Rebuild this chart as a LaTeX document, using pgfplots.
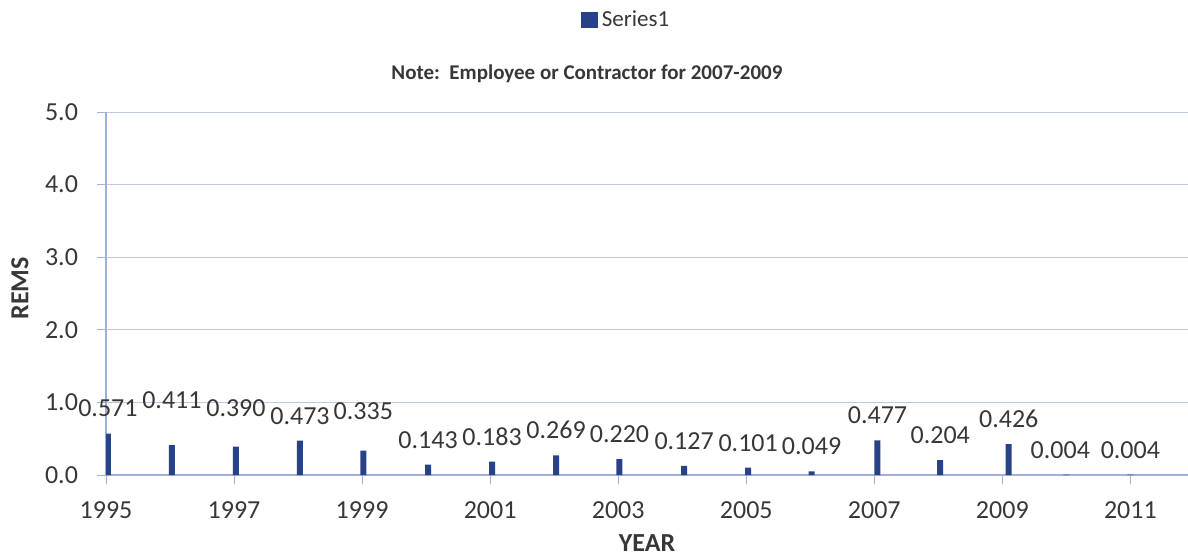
\documentclass[border=0pt]{standalone}
\usepackage{pgfplots}
\pgfplotsset{compat=1.18}
\usepackage{fontspec}
\setmainfont{Carlito}

\definecolor{barblue}{RGB}{40,66,135}
\definecolor{gridgray}{RGB}{190,200,222}
\definecolor{axisblue}{RGB}{160,175,215}
\definecolor{txt}{RGB}{55,55,55}

\begin{document}
\begin{tikzpicture}
\useasboundingbox (-53bp,-41bp) rectangle (541bp,237.5bp);
\begin{axis}[
  at={(0,0)}, anchor=south west,
  scale only axis, width=541bp, height=181.5bp,
  ybar, bar width=3bp,
  xmin=1995, xmax=2011.9,
  ymin=0, ymax=5,
  axis x line=bottom, axis y line=left,
  axis line style={-, draw=axisblue, line width=0.6pt},
  xtick={1995,1997,...,2011},
  ytick={0,1,...,5},
  tick align=outside, major tick length=4.5bp,
  tick style={draw=axisblue, line width=0.5pt},
  ymajorgrids, grid style={draw=gridgray, line width=0.5pt},
  /pgf/number format/assume math mode=true,
  xticklabel style={/pgf/number format/1000 sep={}, yshift=-5.5bp, font=\fontsize{13bp}{15bp}\selectfont, text=txt},
  yticklabel style={/pgf/number format/.cd, fixed, fixed zerofill, precision=1, /tikz/.cd, xshift=-6bp, font=\fontsize{13bp}{15bp}\selectfont, text=txt},
  xlabel={YEAR}, ylabel={REMS},
  xlabel style={at={(rel axis cs:0.5,-0.1873)}, anchor=center, font=\fontsize{13bp}{15bp}\selectfont\bfseries, text=txt},
  ylabel style={at={(rel axis cs:-0.0795,0.514)}, anchor=center, font=\fontsize{13bp}{15bp}\selectfont\bfseries, text=txt},
  title={Note:\ \ Employee or Contractor for 2007-2009},
  title style={at={(rel axis cs:0.4445,1)}, anchor=center, yshift=13bp, font=\fontsize{10.5bp}{12bp}\selectfont\bfseries, text=txt},
  legend style={at={(rel axis cs:0.4815,1.2534)}, anchor=center, draw=none, fill=none, font=\fontsize{11.5bp}{13bp}\selectfont, text=txt, inner sep=0pt},
  legend image code/.code={\fill[barblue] (0bp,-4.2bp) rectangle (8.5bp,4.2bp);},
  nodes near coords,
  visualization depends on={value \thisrow{dy} \as \labeldy},
  visualization depends on={value \thisrow{dx} \as \labeldx},
  nodes near coords style={/pgf/number format/.cd, fixed, fixed zerofill, precision=3, assume math mode=true, /tikz/.cd,
    anchor=south, inner sep=0pt, yshift=8bp+\labeldy bp, xshift=\labeldx bp, font=\fontsize{13bp}{15bp}\selectfont, text=txt},
]
\addplot[fill=barblue, draw=none] table[x=year, y=rem] {
year     rem    dy   dx
1995.03  0.571  0    0
1996.03  0.411  10   0
1997.03  0.390  7    0
1998.03  0.473  0    0
1999.02  0.335  7.5  0
2000.03  0.143  0    0
2001.03  0.183  0    0
2002.03  0.269  0    0
2003.02  0.220  0    0
2004.03  0.127  0    0
2005.03  0.101  0    0
2006.02  0.049  0    0
2007.05  0.477  0    0
2008.03  0.204  0    0
2009.10  0.426  0    0
2010.00  0.004  0    -3
2011.00  0.004  0    0
};
\legend{Series1}
\end{axis}
\end{tikzpicture}
\end{document}
